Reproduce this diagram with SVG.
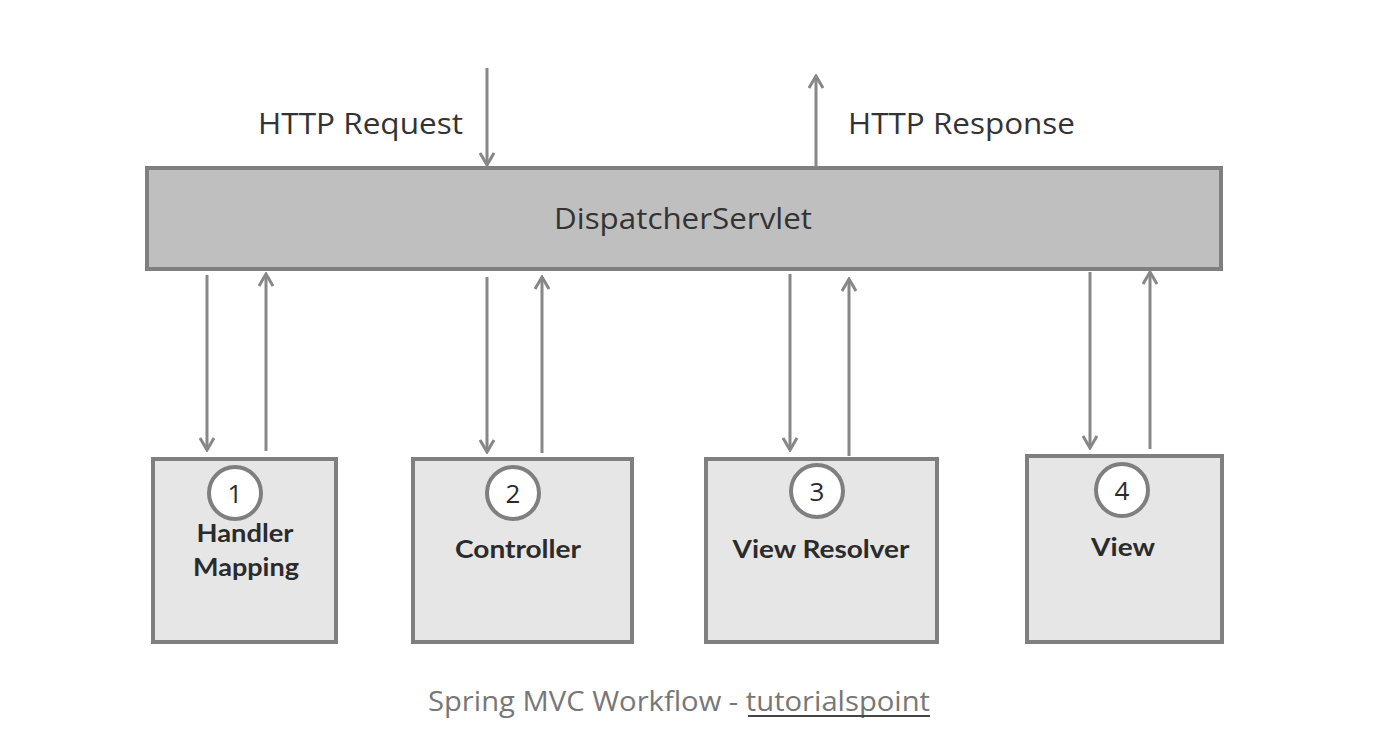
<svg xmlns="http://www.w3.org/2000/svg" width="1393" height="749" viewBox="0 0 1393 749">
<style>
.box{fill:#e6e6e6;stroke:#7f7f7f;stroke-width:4}
.main{fill:#bfbfbf;stroke:#7f7f7f;stroke-width:4}
.circ{fill:#ffffff;stroke:#7f7f7f;stroke-width:4}
.lbl{font-family:"Lato","Liberation Sans",sans-serif;font-weight:bold;font-size:24px;fill:#2b2b2b;text-anchor:middle}
.num{font-family:"Open Sans","Liberation Sans",sans-serif;font-size:26px;fill:#2b2b2b;text-anchor:middle}
.http{font-family:"Open Sans","Liberation Sans",sans-serif;font-size:29px;fill:#333333}
.conn{stroke:#878787;stroke-width:3;fill:none;marker-end:url(#ah)}
</style>
<defs>
<marker id="ah" viewBox="0 0 16 16" refX="14" refY="8" markerWidth="16" markerHeight="16" markerUnits="userSpaceOnUse" orient="auto">
<path d="M2,1 L14,8 L2,15" fill="none" stroke="#878787" stroke-width="3"/>
</marker>
</defs>
<rect width="1393" height="749" fill="#ffffff"/>
<g id="connectors">
<line class="conn" x1="487" y1="68" x2="487" y2="165"/>
<line class="conn" x1="816" y1="166" x2="816" y2="76"/>
<line class="conn" x1="207" y1="275" x2="207" y2="450"/>
<line class="conn" x1="266" y1="451" x2="266" y2="274"/>
<line class="conn" x1="487" y1="277" x2="487" y2="452"/>
<line class="conn" x1="542" y1="453" x2="542" y2="277"/>
<line class="conn" x1="790" y1="274" x2="790" y2="450"/>
<line class="conn" x1="849" y1="456" x2="849" y2="279"/>
<line class="conn" x1="1090" y1="272" x2="1090" y2="448"/>
<line class="conn" x1="1150" y1="449" x2="1150" y2="272"/>
</g>
<g id="http-request"><text class="http" x="258" y="134" textLength="205" lengthAdjust="spacingAndGlyphs">HTTP Request</text></g>
<g id="http-response"><text class="http" x="848" y="134" textLength="227" lengthAdjust="spacingAndGlyphs">HTTP Response</text></g>
<g id="dispatcher">
<rect class="main" x="147" y="168" width="1074" height="101"/>
<text x="554" y="229" font-family="Open Sans, Liberation Sans, sans-serif" font-size="29" fill="#333333" textLength="258" lengthAdjust="spacingAndGlyphs">DispatcherServlet</text>
</g>
<g id="handler-mapping">
<rect class="box" x="153" y="459" width="183" height="183"/>
<circle class="circ" cx="235" cy="493" r="26"/>
<text class="num" x="235" y="503">1</text>
<text class="lbl" x="245" y="542" textLength="97" lengthAdjust="spacingAndGlyphs">Handler</text>
<text class="lbl" x="246" y="576" textLength="106" lengthAdjust="spacingAndGlyphs">Mapping</text>
</g>
<g id="controller">
<rect class="box" x="413" y="459" width="219" height="183"/>
<circle class="circ" cx="513" cy="493" r="26"/>
<text class="num" x="513" y="503">2</text>
<text class="lbl" x="518" y="558" textLength="126" lengthAdjust="spacingAndGlyphs">Controller</text>
</g>
<g id="view-resolver">
<rect class="box" x="706" y="459" width="231" height="183"/>
<circle class="circ" cx="817" cy="491" r="26"/>
<text class="num" x="817" y="501">3</text>
<text class="lbl" x="821" y="558" textLength="177" lengthAdjust="spacingAndGlyphs">View Resolver</text>
</g>
<g id="view">
<rect class="box" x="1027" y="456" width="195" height="186"/>
<circle class="circ" cx="1122" cy="490" r="26"/>
<text class="num" x="1122" y="500">4</text>
<text class="lbl" x="1123" y="556" textLength="64" lengthAdjust="spacingAndGlyphs">View</text>
</g>
<g id="caption">
<text x="428" y="711" font-family="Open Sans, Liberation Sans, sans-serif" font-size="27" fill="#777777" textLength="502" lengthAdjust="spacingAndGlyphs">Spring MVC Workflow - tutorialspoint</text>
<line x1="748" y1="716" x2="930" y2="716" stroke="#444444" stroke-width="2"/>
</g>
</svg>
